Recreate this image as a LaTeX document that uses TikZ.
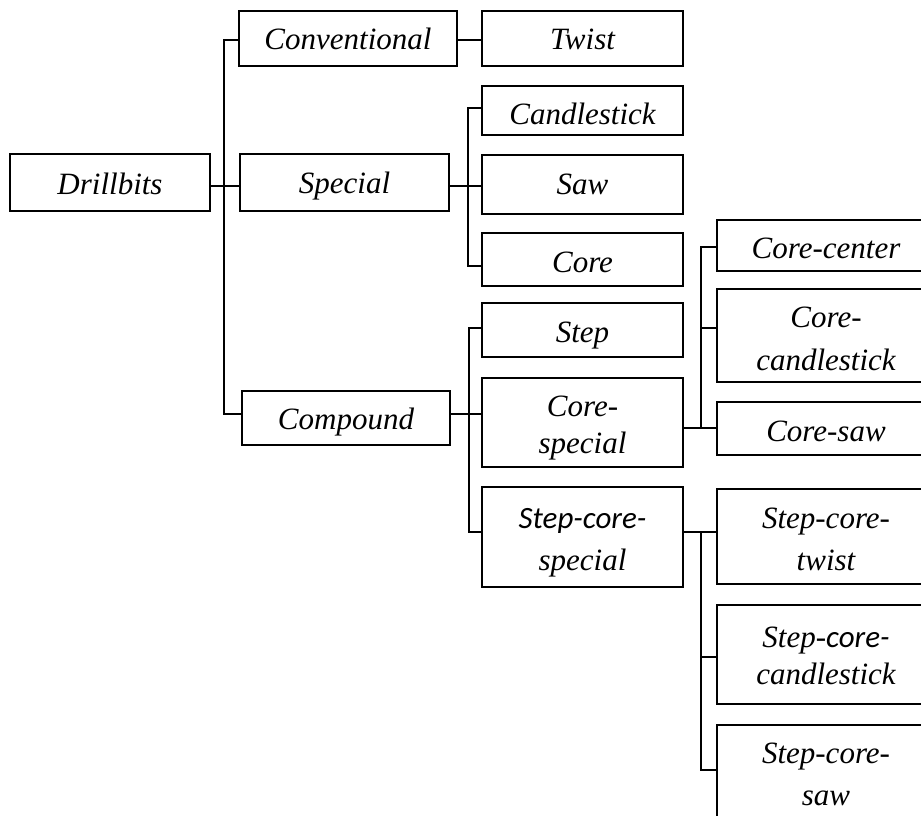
\documentclass[tikz,border=0pt]{standalone}
\usepackage{fontspec}
\setmainfont{Liberation Serif}
\newfontfamily\calib{Carlito}
\begin{document}
\begin{tikzpicture}[x=1pt,y=-1pt,
  box/.style={draw, line width=1.3pt, inner sep=0pt, rectangle},
  lbl/.style={anchor=base, inner sep=0pt, font=\fontsize{31}{37}\selectfont\itshape},
  conn/.style={line width=1.3pt}]
\useasboundingbox (0,0) rectangle (921,816);
\begin{scope}
\clip (0,0) rectangle (921,816);
% boxes
\node[box, minimum width=200pt, minimum height=57pt] (drill) at (110,182.5) {};
\node[box, minimum width=218pt, minimum height=55pt] (conv) at (348,38.5) {};
\node[box, minimum width=209pt, minimum height=57pt] (spec) at (344.5,182.5) {};
\node[box, minimum width=208pt, minimum height=54pt] (comp) at (346,418) {};
\node[box, minimum width=201pt, minimum height=55pt] (twist) at (582.5,38.5) {};
\node[box, minimum width=201pt, minimum height=49pt] (candle) at (582.5,110.5) {};
\node[box, minimum width=201pt, minimum height=59pt] (saw) at (582.5,184.5) {};
\node[box, minimum width=201pt, minimum height=53pt] (core) at (582.5,259.5) {};
\node[box, minimum width=201pt, minimum height=54pt] (step) at (582.5,330) {};
\node[box, minimum width=201pt, minimum height=89pt] (corespec) at (582.5,422.5) {};
\node[box, minimum width=201pt, minimum height=100pt] (scspec) at (582.5,537) {};
\node[box, minimum width=218pt, minimum height=51pt] (ccenter) at (826,245.5) {};
\node[box, minimum width=218pt, minimum height=93pt] (ccandle) at (826,335.5) {};
\node[box, minimum width=218pt, minimum height=53pt] (csaw) at (826,428.5) {};
\node[box, minimum width=218pt, minimum height=95pt] (sctwist) at (826,536.5) {};
\node[box, minimum width=218pt, minimum height=99pt] (sccandle) at (826,654.5) {};
\node[box, minimum width=218pt, minimum height=92pt] (scsaw) at (826,771) {};
% labels
\node[lbl] (drillT) at (110,194) {Drillbits};
\node[lbl] (convT) at (348,50) {Conventional};
\node[lbl] (specT) at (344.5,193) {Special};
\node[lbl] (compT) at (346,429) {Compound};
\node[lbl] (twistT) at (582.5,50) {Twist};
\node[lbl] (candleT) at (582.5,124) {Candlestick};
\node[lbl] (sawT) at (582.5,194) {Saw};
\node[lbl] (coreT) at (582.5,272) {Core};
\node[lbl] (stepT) at (582.5,342) {Step};
\node[lbl] (corespecA) at (582.5,416) {Core-};
\node[lbl] (corespecB) at (582.5,453) {special};
\node[lbl] (scspecA) at (582.5,528) {{\calib Step-core-}};
\node[lbl] (scspecB) at (582.5,570) {special};
\node[lbl] (ccenterT) at (826,258) {Core-center};
\node[lbl] (ccandleA) at (826,327) {Core-};
\node[lbl] (ccandleB) at (826,370) {candlestick};
\node[lbl] (csawT) at (826,441) {Core-saw};
\node[lbl] (sctwistA) at (826,528) {Step-core-};
\node[lbl] (sctwistB) at (826,570) {twist};
\node[lbl] (sccandleA) at (826,647) {Step-{\calib core-}};
\node[lbl] (sccandleB) at (826,684) {candlestick};
\node[lbl] (scsawA) at (826,763) {Step-core-};
\node[lbl] (scsawB) at (826,805) {saw};
% trunk points
\coordinate (t1a) at (224,40);
\coordinate (t1b) at (224,186);
\coordinate (t1c) at (224,414);
\coordinate (t2a) at (468,108);
\coordinate (t2b) at (468,186);
\coordinate (t2c) at (468,266);
\coordinate (t3a) at (469,328);
\coordinate (t3b) at (469,414);
\coordinate (t3c) at (469,532);
\coordinate (t4a) at (701,247);
\coordinate (t4b) at (701,328);
\coordinate (t4c) at (701,428);
\coordinate (t5a) at (701,532);
\coordinate (t5b) at (701,657);
\coordinate (t5c) at (701,770);
% connectors
\draw[conn] (drill.east |- t1b) -- (spec.west |- t1b);
\draw[conn] (conv.west |- t1a) -- (t1a) -- (t1c) -- (comp.west |- t1c);
\draw[conn] (conv.east |- t1a) -- (twist.west |- t1a);
\draw[conn] (spec.east |- t2b) -- (saw.west |- t2b);
\draw[conn] (candle.west |- t2a) -- (t2a) -- (t2c) -- (core.west |- t2c);
\draw[conn] (comp.east |- t3b) -- (corespec.west |- t3b);
\draw[conn] (step.west |- t3a) -- (t3a) -- (t3c) -- (scspec.west |- t3c);
\draw[conn] (corespec.east |- t4c) -- (csaw.west |- t4c);
\draw[conn] (ccenter.west |- t4a) -- (t4a) -- (t4c);
\draw[conn] (t4b) -- (ccandle.west |- t4b);
\draw[conn] (scspec.east |- t5a) -- (sctwist.west |- t5a);
\draw[conn] (t5a) -- (t5c) -- (scsaw.west |- t5c);
\draw[conn] (t5b) -- (sccandle.west |- t5b);
\end{scope}
\end{tikzpicture}
\end{document}
